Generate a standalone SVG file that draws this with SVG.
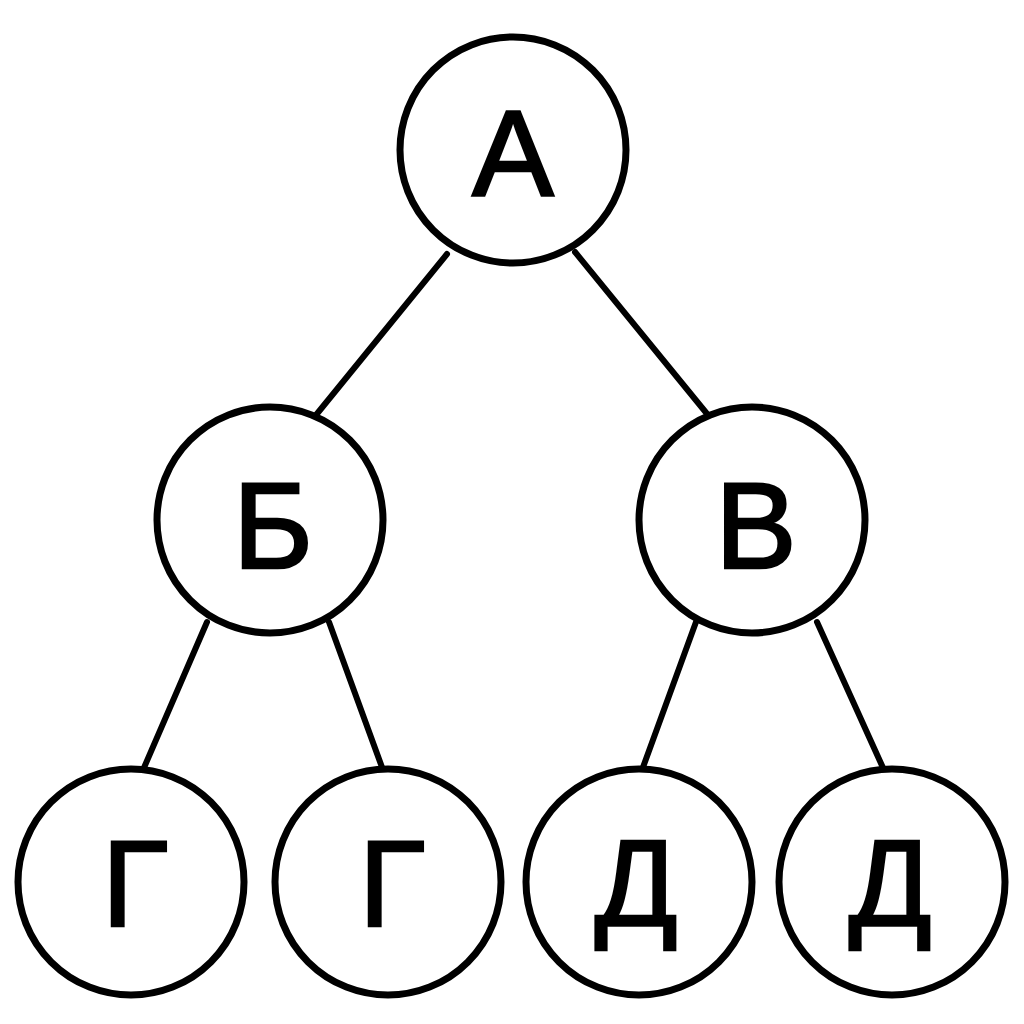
<svg xmlns="http://www.w3.org/2000/svg" width="1024" height="1024" viewBox="0 0 1024 1024">
<style>
.node circle{fill:#fff;stroke:#000;stroke-width:7}
.node text{font-family:"Liberation Sans","DejaVu Sans",sans-serif;font-size:122px;fill:#000;stroke:#000;stroke-width:2.5;text-anchor:middle}
.edges line{stroke:#000;stroke-width:6;stroke-linecap:round}
</style>
<rect width="1024" height="1024" fill="#fff"/>
<g class="edges" id="connectors">
<line x1="447" y1="254" x2="316" y2="415"/>
<line x1="575" y1="252" x2="708" y2="415"/>
<line x1="207" y1="622" x2="143" y2="770"/>
<line x1="329" y1="622" x2="383" y2="770"/>
<line x1="696" y1="622" x2="642" y2="770"/>
<line x1="817" y1="622" x2="884" y2="770"/>
</g>
<g class="node" id="node-A"><circle cx="513" cy="150" r="113"/><text x="513" y="196">А</text></g>
<g class="node" id="node-B"><circle cx="270" cy="520" r="113"/><text x="273" y="568">Б</text></g>
<g class="node" id="node-V"><circle cx="752" cy="520" r="113"/><text x="756" y="568">В</text></g>
<g class="node" id="node-G1"><circle cx="131" cy="882" r="113"/><text x="135" y="926">Г</text></g>
<g class="node" id="node-G2"><circle cx="388" cy="882" r="113"/><text x="392" y="926">Г</text></g>
<g class="node" id="node-D1"><circle cx="639" cy="882" r="113"/><text x="636" y="926">Д</text></g>
<g class="node" id="node-D2"><circle cx="892" cy="882" r="113"/><text x="890" y="926">Д</text></g>
</svg>
